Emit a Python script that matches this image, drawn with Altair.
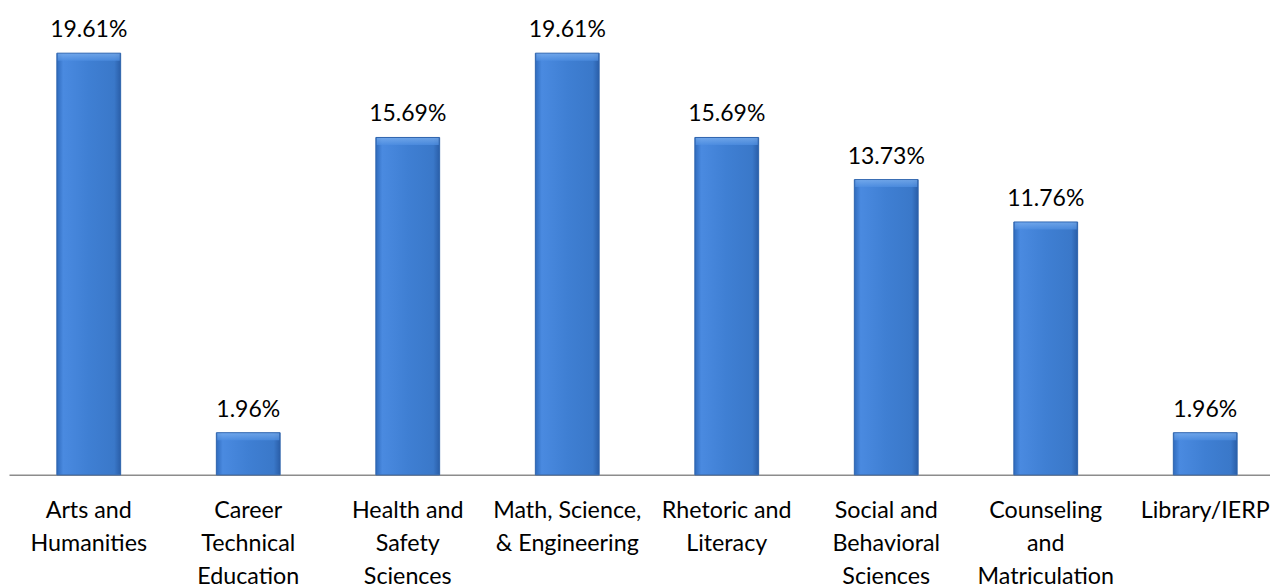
import altair as alt
import pandas as pd

categories = [
    "Arts and\nHumanities",
    "Career\nTechnical\nEducation",
    "Health and\nSafety\nSciences",
    "Math, Science,\n& Engineering",
    "Rhetoric and\nLiteracy",
    "Social and\nBehavioral\nSciences",
    "Counseling\nand\nMatriculation",
    "Library/IERP",
]
values = [19.61, 1.96, 15.69, 19.61, 15.69, 13.73, 11.76, 1.96]

df = pd.DataFrame({"cat": categories, "val": values})
df["lbl"] = [f"{v:.2f}%" for v in values]

FONT = "Lato"

x = alt.X(
    "cat:N",
    sort=categories,
    title=None,
    scale=alt.Scale(paddingInner=0.6, paddingOuter=0.3, range=[0, 1277]),
    axis=alt.Axis(
        labelExpr="split(datum.label, '\\n')",
        labelAngle=0,
        labelFont=FONT,
        labelFontSize=23.3,
        labelColor="#000000",
        labelLineHeight=33,
        labelPadding=25,
        labelOverlap=False,
        ticks=False,
        domainColor="#8c8c8c",
        domainWidth=1.5,
        grid=False,
        labelBaseline="top",
    ),
)
y = alt.Y("val:Q", scale=alt.Scale(domain=[0, 21.7]), axis=None)

bars = alt.Chart(df).mark_bar(
    color=alt.Gradient(
        gradient="linear",
        x1=0, x2=1, y1=0, y2=0,
        stops=[
            alt.GradientStop(color="#2f6bbd", offset=0),
            alt.GradientStop(color="#4a8ae0", offset=0.1),
            alt.GradientStop(color="#3f7fd3", offset=0.5),
            alt.GradientStop(color="#3a78c9", offset=0.9),
            alt.GradientStop(color="#2a5ea8", offset=1),
        ],
    ),
    stroke="#2d63ad",
    strokeWidth=1,
).encode(x=x, y=y)

bevel = alt.Chart(df).mark_tick(
    thickness=7,
    size=62,
    yOffset=4,
    color=alt.Gradient(
        gradient="linear",
        x1=0, x2=0, y1=0, y2=1,
        stops=[
            alt.GradientStop(color="#7fb2f0", offset=0),
            alt.GradientStop(color="#4f8fe2", offset=1),
        ],
    ),
).encode(x=x, y=y)

text = alt.Chart(df).mark_text(
    baseline="bottom", dy=-11, font=FONT, fontSize=23, color="#000000"
).encode(x=x, y=y, text="lbl:N")

chart = (bars + bevel + text).properties(
    width=1262,
    height=467,
    autosize=alt.AutoSizeParams(type="none"),
    padding={"left": 1, "top": 0, "right": 0, "bottom": 113},
).configure_view(stroke=None)

chart.save("out.html", embed_options={"renderer": "svg", "actions": False})
